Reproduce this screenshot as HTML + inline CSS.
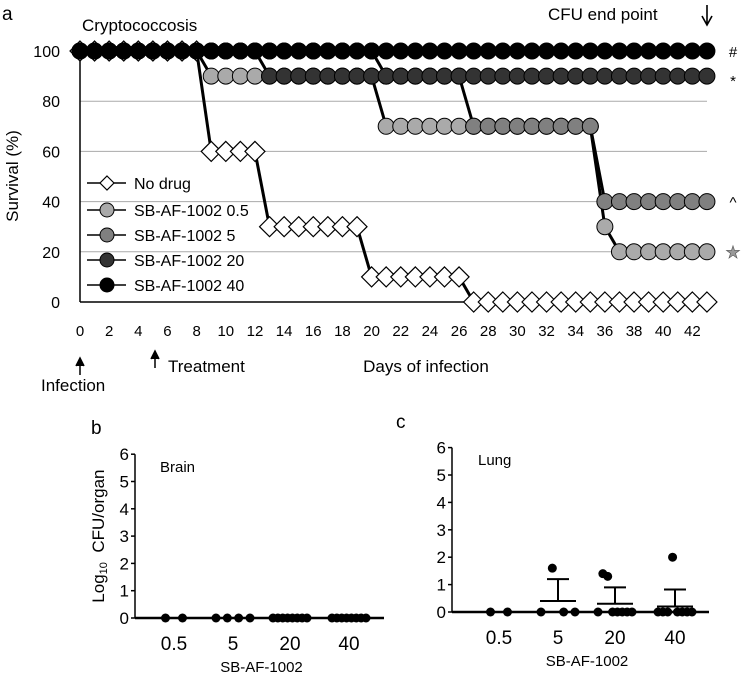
<!DOCTYPE html>
<html><head><meta charset="utf-8"><style>
html,body{margin:0;padding:0;background:#fff;}
svg{display:block;font-family:"Liberation Sans",Arial,sans-serif;}
</style></head><body>
<svg id="fig" width="742" height="680" viewBox="0 0 742 680">
<g id="gA"></g>
<g id="gB"></g>
<g id="gC"></g>
</svg>
<script>
// ---- Panel a data ----
const days = Array.from({length:44},(_,i)=>i);
const yTicksA = [0,20,40,60,80,100];
const xTickLabelsA = [0,2,4,6,8,10,12,14,16,18,20,22,24,26,28,30,32,34,36,38,40,42];
const seriesNames = ["No drug","SB-AF-1002 0.5","SB-AF-1002 5","SB-AF-1002 20","SB-AF-1002 40"];
const survNoDrug = [100,100,100,100,100,100,100,100,100,60,60,60,60,30,30,30,30,30,30,30,10,10,10,10,10,10,10,0,0,0,0,0,0,0,0,0,0,0,0,0,0,0,0,0];
const surv05 = [100,100,100,100,100,100,100,100,100,90,90,90,90,90,90,90,90,90,90,90,90,70,70,70,70,70,70,70,70,70,70,70,70,70,70,70,30,20,20,20,20,20,20,20];
const surv5 = [100,100,100,100,100,100,100,100,100,100,100,100,100,100,100,100,100,100,100,100,100,90,90,90,90,90,90,70,70,70,70,70,70,70,70,70,40,40,40,40,40,40,40,40];
const surv20 = [100,100,100,100,100,100,100,100,100,100,100,100,100,90,90,90,90,90,90,90,90,90,90,90,90,90,90,90,90,90,90,90,90,90,90,90,90,90,90,90,90,90,90,90];
const surv40 = [100,100,100,100,100,100,100,100,100,100,100,100,100,100,100,100,100,100,100,100,100,100,100,100,100,100,100,100,100,100,100,100,100,100,100,100,100,100,100,100,100,100,100,100];
const sigMarks = ["#","*","^","\u2605"];
const sigValues = [100,90,40,20];
// ---- Panels b/c data ----
const doseLabels = ["0.5","5","20","40"];
const yTicksBC = [0,1,2,3,4,5,6];
const brain05 = [0,0], brain5 = [0,0,0,0], brain20 = [0,0,0,0,0,0,0,0], brain40 = [0,0,0,0,0,0,0,0];
const lung05 = [0,0], lung5 = [0,1.6,0,0], lung20 = [0,1.4,1.3,0,0,0,0,0], lung40 = [0,0,0,2.0,0,0,0,0];
const lungMean = [0,0.4,0.3,0.2];
const lungErr = [0,0.8,0.6,0.62];

const NS="http://www.w3.org/2000/svg";
function el(p,tag,attrs,txt){const e=document.createElementNS(NS,tag);for(const k in attrs)e.setAttribute(k,attrs[k]);if(txt!==undefined)e.textContent=txt;p.appendChild(e);return e;}

// ---- Panel a ----
const gA=document.getElementById('gA');
const xA=d=>80+d*14.58, yA=v=>302-v*2.51;
let t;
t=el(gA,'text',{x:2,y:20,'font-size':19},'a');


t=el(gA,'text',{x:82,y:31,'font-size':17},'Cryptococcosis');


t=el(gA,'text',{x:548,y:20,'font-size':17},'CFU end point');


t=el(gA,'path',{d:'M707 5 V24 M702 16 L707 25 L712 16',stroke:'#000','stroke-width':1.6,fill:'none'});


yTicksA.forEach(v=>{
  if(v>0&&v<100){const l=el(gA,'line',{x1:80,x2:707,y1:yA(v),y2:yA(v),stroke:'#aaa','stroke-width':1});
  
  }
  const tx=el(gA,'text',{x:60,y:yA(v)+6,'font-size':16,'text-anchor':'end'},String(v));
  
  
});
t=el(gA,'line',{x1:80,x2:80,y1:yA(100),y2:yA(0),stroke:'#000','stroke-width':1.5});


t=el(gA,'line',{x1:80,x2:707,y1:yA(0),y2:yA(0),stroke:'#000','stroke-width':1.5});


t=el(gA,'text',{x:0,y:0,'font-size':17,'text-anchor':'middle',transform:'translate(18,176) rotate(-90)'},'Survival (%)');


xTickLabelsA.forEach(d=>{
  const tx=el(gA,'text',{x:xA(d),y:336,'font-size':15,'text-anchor':'middle'},String(d));
  
  
});
// legend (drawn first, under series lines)
const fills=['#fff','#aaa','#808080','#333','#000'];
const legY=[183,210,235,260,285];
seriesNames.forEach((n,i)=>{
  const g=el(gA,'g',{});
  
  
  el(g,'line',{x1:87,x2:126,y1:legY[i],y2:legY[i],stroke:'#000','stroke-width':1.5});
  if(i===0)el(g,'path',{d:`M107 ${legY[i]-7}L114 ${legY[i]}L107 ${legY[i]+7}L100 ${legY[i]}Z`,fill:'#fff',stroke:'#000','stroke-width':1.2});
  else el(g,'circle',{cx:107,cy:legY[i],r:7,fill:fills[i],stroke:'#000','stroke-width':1});
  el(g,'text',{x:134,y:legY[i]+6,'font-size':16},n);
});
const allSeries=[survNoDrug,surv05,surv5,surv20,surv40];
allSeries.forEach((s,si)=>{
  const g=el(gA,'g',{});
  
  
  let d='';
  s.forEach((v,i)=>{d+=(i?'L':'M')+xA(days[i])+' '+yA(v);});
  el(g,'path',{d:d,stroke:'#000','stroke-width':3,fill:'none'});
  s.forEach((v,i)=>{
    let m;
    if(si===0){const cx=xA(days[i]),cy=yA(v),r=10;
      m=el(g,'path',{d:`M${cx} ${cy-r}L${cx+r} ${cy}L${cx} ${cy+r}L${cx-r} ${cy}Z`,fill:'#fff',stroke:'#000','stroke-width':1.2});}
    else m=el(g,'circle',{cx:xA(days[i]),cy:yA(v),r:8,fill:fills[si],stroke:'#000','stroke-width':1});
    
    
  });
});
sigMarks.forEach((m,i)=>{
  const tx=el(gA,'text',{x:733,y:yA(sigValues[i])+6+(i===1?4:0),'font-size':i===3?17:15,'text-anchor':'middle',fill:i===3?'#999':'#000',stroke:i===3?'#555':'none','stroke-width':0.6},m);
  
  
});
// annotations
t=el(gA,'path',{d:'M80 375 V360 M76 366 L80 358 L84 366',stroke:'#000','stroke-width':1.5,fill:'#000'});


t=el(gA,'path',{d:'M155 368 V353 M151 359 L155 351 L159 359',stroke:'#000','stroke-width':1.5,fill:'#000'});


t=el(gA,'text',{x:41,y:391,'font-size':17},'Infection');


t=el(gA,'text',{x:168,y:372,'font-size':17},'Treatment');


t=el(gA,'text',{x:426,y:372,'font-size':17,'text-anchor':'middle'},'Days of infection');



// ---- Panels b/c ----
function cfuPanel(g,letter,lx,ly,ax,axEnd,y0,step,catX,groups,name,nameX,nameY,means,errs,showYTitle){
  const y=v=>y0-v*step;
  let t=el(g,'text',{x:lx,y:ly,'font-size':19},letter);
  
  
  t=el(g,'text',{x:nameX,y:nameY,'font-size':15},name);
  
  
  t=el(g,'line',{x1:ax,x2:ax,y1:y(6),y2:y(0),stroke:'#000','stroke-width':1.5});
  
  
  yTicksBC.forEach(v=>{
    el(g,'line',{x1:ax-4,x2:ax,y1:y(v),y2:y(v),stroke:'#000','stroke-width':1.5});
    const tx=el(g,'text',{x:ax-6,y:y(v)+6,'font-size':17,'text-anchor':'end'},String(v));
    
    
  });
  t=el(g,'line',{x1:ax,x2:axEnd,y1:y(0),y2:y(0),stroke:'#000','stroke-width':2.5});
  
  
  doseLabels.forEach((d,i)=>{
    const tx=el(g,'text',{x:catX[i],y:y0+32,'font-size':19,'text-anchor':'middle'},d);
    
    
  });
  t=el(g,'text',{x:(catX[0]+catX[3])/2,y:y0+54,'font-size':15,'text-anchor':'middle'},'SB-AF-1002');
  
  
  groups.forEach((grp,gi)=>{
    const n=grp.length, sp=n>1?Math.min(17,34/(n-1)):0;
    grp.forEach((v,i)=>{
      const c=el(g,'circle',{cx:catX[gi]+(i-(n-1)/2)*sp,cy:y(v),r:4.5,fill:'#000'});
      
      
    });
    if(means){
      const m=el(g,'line',{x1:catX[gi]-18,x2:catX[gi]+18,y1:y(means[gi]),y2:y(means[gi]),stroke:'#000','stroke-width':2});
      
      
      if(errs[gi]>0){
        const e=el(g,'path',{d:`M${catX[gi]} ${y(means[gi])}V${y(means[gi]+errs[gi])}M${catX[gi]-11} ${y(means[gi]+errs[gi])}H${catX[gi]+11}`,stroke:'#000','stroke-width':2,fill:'none'});
        
        
      }
    }
  });
  if(showYTitle){
    const tx=el(g,'text',{x:0,y:0,'font-size':17,'text-anchor':'middle',transform:`translate(${ax-31},${y(3)}) rotate(-90)`});
    
    
    el(tx,'tspan',{},'Log');
    el(tx,'tspan',{'font-size':11,dy:3},'10');
    el(tx,'tspan',{dy:-3},'\u00a0\u00a0CFU/organ');
  }
}
cfuPanel(document.getElementById('gB'),'b',91,434,135,384,618,27.3,[174,233,290,349],[brain05,brain5,brain20,brain40],'Brain',160,472,null,null,true);
cfuPanel(document.getElementById('gC'),'c',396,428,452,709,612,27.4,[499,558,615,675],[lung05,lung5,lung20,lung40],'Lung',478,465,lungMean,lungErr,false);
</script>
</body></html>
